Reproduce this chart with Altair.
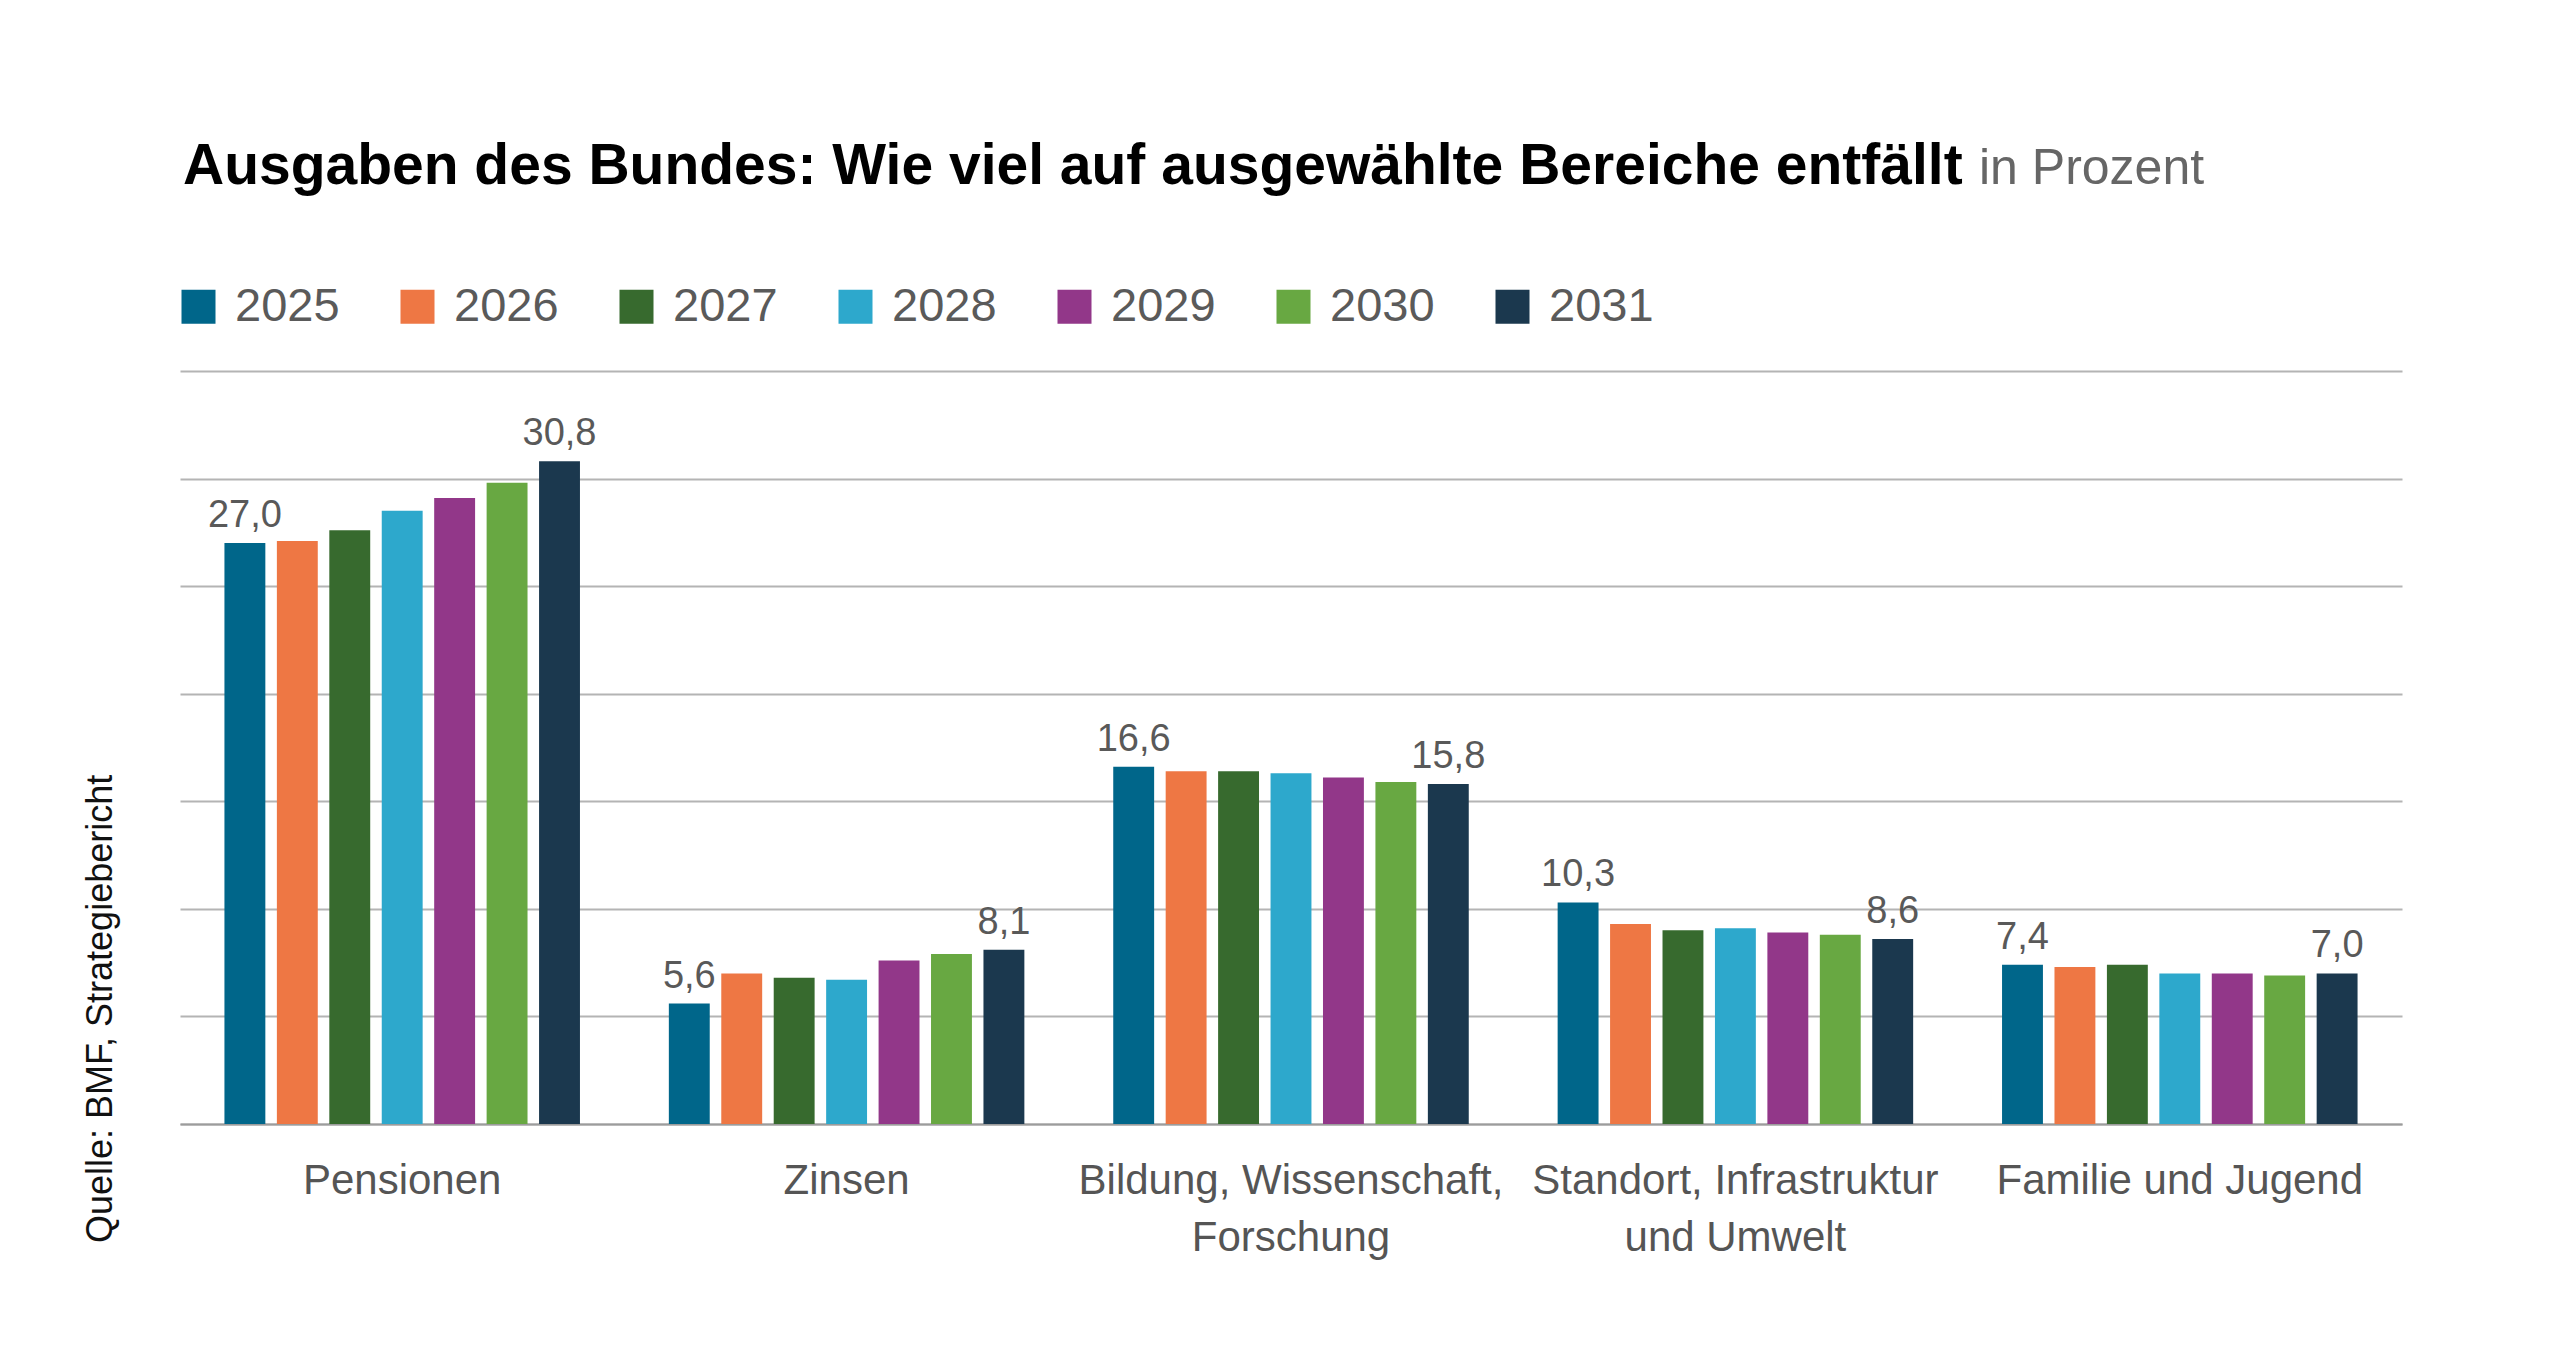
import altair as alt
import pandas as pd

# Spending areas and their axis label lines
CATEGORIES = [
    "Pensionen",
    "Zinsen",
    "Bildung, Wissenschaft, Forschung",
    "Standort, Infrastruktur und Umwelt",
    "Familie und Jugend",
]
CATEGORY_LINES = [
    ["Pensionen"],
    ["Zinsen"],
    ["Bildung, Wissenschaft,", "Forschung"],
    ["Standort, Infrastruktur", "und Umwelt"],
    ["Familie und Jugend"],
]

YEARS = ["2025", "2026", "2027", "2028", "2029", "2030", "2031"]
COLORS = ["#00668A", "#EE7744", "#376A2E", "#2DA8CC", "#923789", "#68A842", "#1B384E"]

# Share of federal spending, percent, 2025..2031
PENSIONEN = [27.0, 27.1, 27.6, 28.5, 29.1, 29.8, 30.8]
ZINSEN = [5.6, 7.0, 6.8, 6.7, 7.6, 7.9, 8.1]
BILDUNG = [16.6, 16.4, 16.4, 16.3, 16.1, 15.9, 15.8]
STANDORT = [10.3, 9.3, 9.0, 9.1, 8.9, 8.8, 8.6]
FAMILIE = [7.4, 7.3, 7.4, 7.0, 7.0, 6.9, 7.0]

LABELED_YEARS = ["2025", "2031"]
GRID_VALUES = [0, 5, 10, 15, 20, 25, 30, 35]

TITLE = "Ausgaben des Bundes: Wie viel auf ausgewählte Bereiche entfällt"
UNIT = "in Prozent"
SOURCE = "Quelle: BMF, Strategiebericht"

FONT = "Liberation Sans"

series = [PENSIONEN, ZINSEN, BILDUNG, STANDORT, FAMILIE]
rows = []
for cat, vals in zip(CATEGORIES, series):
    for year, v in zip(YEARS, vals):
        rows.append({"bereich": cat, "jahr": year, "wert": v})
df = pd.DataFrame(rows)

# Multi-line axis labels
label_expr = ""
for cat, lines in zip(CATEGORIES, CATEGORY_LINES):
    arr = "[" + ", ".join("'" + l + "'" for l in lines) + "]"
    label_expr += f"datum.label == '{cat}' ? {arr} : "
label_expr += "datum.label"

base = alt.Chart(df).encode(
    x=alt.X(
        "bereich:N",
        sort=CATEGORIES,
        scale=alt.Scale(domain=CATEGORIES, paddingInner=0.2, paddingOuter=0.1),
        axis=alt.Axis(
            title=None,
            labelAngle=0,
            labelFont=FONT,
            labelFontSize=42,
            labelColor="#555555",
            labelPadding=36,
            labelLineHeight=57,
            labelLimit=800,
            labelOverlap=False,
            labelExpr=label_expr,
            ticks=False,
            grid=False,
            domainColor="#9c9c9c",
            domainWidth=2,
        ),
    ),
    xOffset=alt.XOffset(
        "jahr:N",
        sort=YEARS,
        scale=alt.Scale(domain=YEARS, paddingInner=0.22, paddingOuter=0),
    ),
    y=alt.Y(
        "wert:Q",
        scale=alt.Scale(domain=[0, 35], nice=False),
        axis=alt.Axis(
            title=None,
            values=GRID_VALUES,
            labels=False,
            ticks=False,
            domain=False,
            grid=True,
            gridColor="#b4b4b4",
            gridWidth=2,
        ),
    ),
)

bars = base.mark_bar().encode(
    color=alt.Color(
        "jahr:N",
        scale=alt.Scale(domain=YEARS, range=COLORS),
        legend=alt.Legend(
            title=None,
            orient="none",
            legendX=-5,
            legendY=-88,
            direction="horizontal",
            symbolType="square",
            symbolSize=1156,
            symbolStrokeWidth=0,
            symbolOpacity=1,
            labelFont=FONT,
            labelFontSize=47,
            labelColor="#5a5a5a",
            labelOffset=13,
            columnPadding=54,
        ),
    )
)

value_labels = (
    base.transform_filter(alt.FieldOneOfPredicate(field="jahr", oneOf=LABELED_YEARS))
    .transform_calculate(txt="replace(format(datum.wert, '.1f'), '.', ',')")
    .mark_text(
        font=FONT,
        fontSize=38,
        color="#595959",
        align="center",
        baseline="alphabetic",
        dy=-16,
    )
    .encode(text="txt:N")
)

title = (
    alt.Chart(pd.DataFrame({"t": [TITLE]}))
    .mark_text(font=FONT, fontSize=57, fontWeight="bold", color="#000000",
               align="left", baseline="alphabetic")
    .encode(x=alt.value(3), y=alt.value(-187), text="t:N")
)

unit = (
    alt.Chart(pd.DataFrame({"t": [UNIT]}))
    .mark_text(font=FONT, fontSize=50, color="#666666",
               align="left", baseline="alphabetic")
    .encode(x=alt.value(1799), y=alt.value(-187), text="t:N")
)

source = (
    alt.Chart(pd.DataFrame({"t": [SOURCE]}))
    .mark_text(font=FONT, fontSize=36, color="#111111", angle=270,
               align="left", baseline="alphabetic")
    .encode(x=alt.value(-68), y=alt.value(872), text="t:N")
)

chart = (
    alt.layer(bars, value_labels, title, unit, source)
    .properties(
        width=2222,
        height=753,
        autosize=alt.AutoSizeParams(type="none"),
        padding={"left": 180, "top": 371, "right": 158, "bottom": 247},
        background="#ffffff",
    )
    .configure(font=FONT)
    .configure_view(stroke="transparent", strokeWidth=0)
)

chart.save("out.html", embed_options={"renderer": "svg", "actions": False})
